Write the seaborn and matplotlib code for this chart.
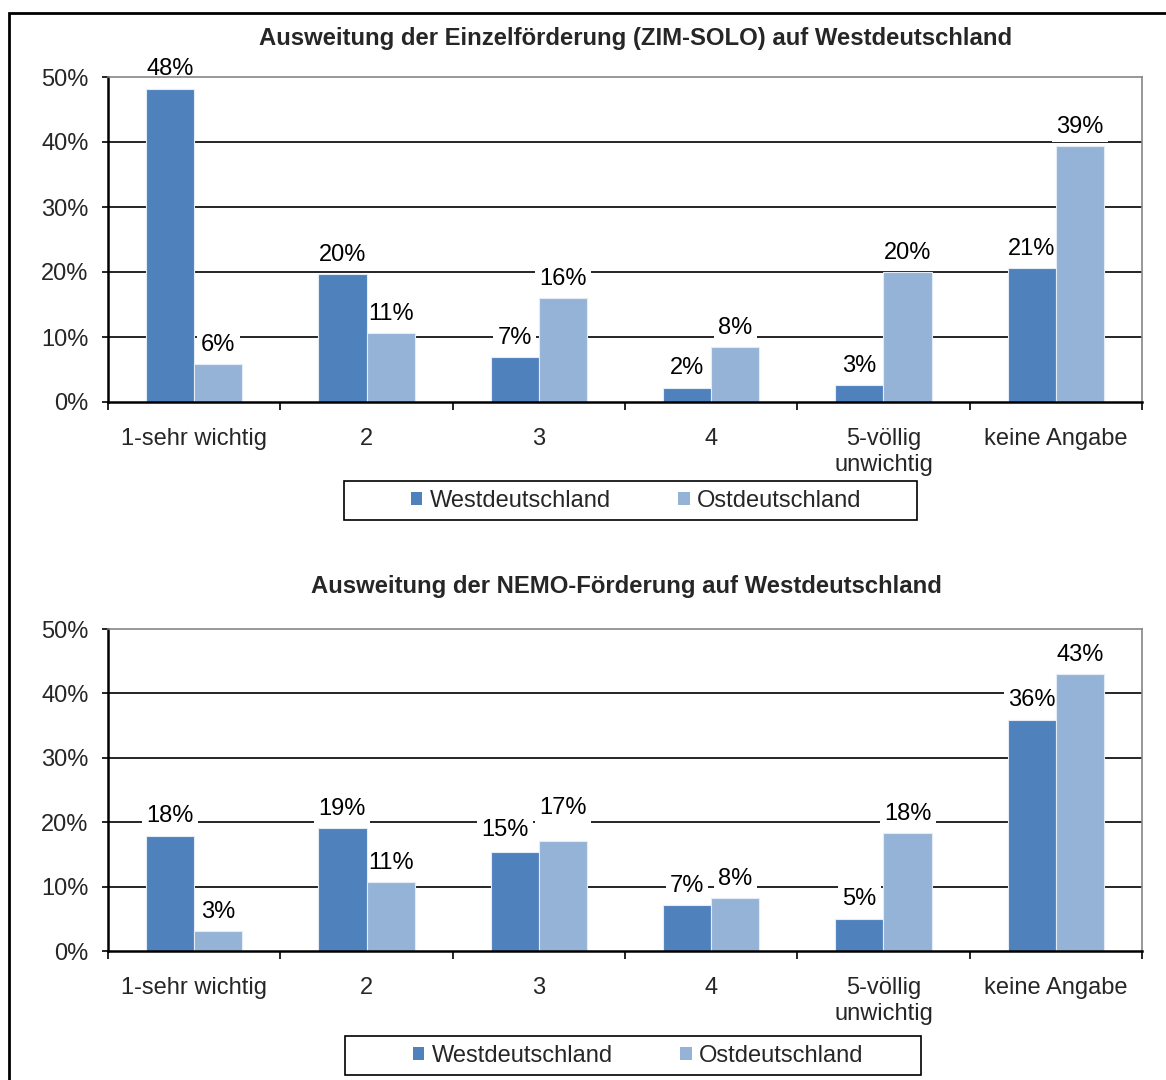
import numpy as np
import pandas as pd
import matplotlib
matplotlib.use('Agg')
import matplotlib.pyplot as plt
import seaborn as sns
from matplotlib.patches import Rectangle, Patch

# categories and series (percent)
categories = ['1-sehr wichtig', '2', '3', '4', '5-völlig\nunwichtig', 'keine Angabe']
regions = ['Westdeutschland', 'Ostdeutschland']

solo_west = [48.2, 19.7, 6.9, 2.2, 2.6, 20.6]
solo_ost = [5.8, 10.6, 16.0, 8.4, 20.0, 39.4]
nemo_west = [17.9, 19.1, 15.4, 7.1, 5.0, 35.9]
nemo_ost = [3.1, 10.7, 17.1, 8.2, 18.3, 43.0]

title_solo = 'Ausweitung der Einzelförderung (ZIM-SOLO) auf Westdeutschland'
title_nemo = 'Ausweitung der NEMO-Förderung auf Westdeutschland'
yticks = [0, 10, 20, 30, 40, 50]
colors = ['#4F81BD', '#95B3D7']

sns.set_theme(style='white')
plt.rcParams['font.family'] = ['Liberation Sans', 'DejaVu Sans']

W, H = 1166, 1080
fig = plt.figure(figsize=(W / 100, H / 100), dpi=100)
fs = 17
pad_lbl = 6


def px(x0, y0, x1, y1):
    # pixel box -> figure fraction rect
    return [x0 / W, 1 - y1 / H, (x1 - x0) / W, (y1 - y0) / H]


def draw_panel(rect, west, ost, title, title_xy, legend_xy, box, nudges=None):
    ax = fig.add_axes(rect)
    df = pd.DataFrame({
        'Kategorie': categories * 2,
        'Region': [regions[0]] * len(categories) + [regions[1]] * len(categories),
        'Anteil': west + ost,
    })
    sns.barplot(data=df, x='Kategorie', y='Anteil', hue='Region', palette=colors,
                width=0.56, saturation=1, edgecolor='#e4ecf5', linewidth=0.8,
                legend=False, ax=ax, zorder=2)

    for v in yticks[1:-1]:
        ax.axhline(v, color='black', lw=1.2, zorder=0.5)

    nudges = nudges or {}
    for k, (cont, vals) in enumerate(zip(ax.containers, [west, ost])):
        texts = ax.bar_label(cont, labels=[f'{round(v)}%' for v in vals],
                             padding=pad_lbl, fontsize=fs, color='black')
        for i, t in enumerate(texts):
            t.set_bbox(dict(facecolor='white', edgecolor='none', pad=3))
            t.set_zorder(1)
            if (k, i) in nudges:
                dx, dy = nudges[(k, i)]
                t.xyann = (dx, pad_lbl + dy)

    ax.set_ylim(0, 50)
    ax.set_xlim(-0.5, len(categories) - 0.5)
    ax.set_yticks(yticks)
    ax.set_yticklabels([f'{v}%' for v in yticks])
    ax.set_xticks(range(len(categories)))
    ax.set_xticklabels(categories)
    ax.set_xticks(np.arange(-0.5, len(categories), 1), minor=True)
    ax.tick_params(axis='x', which='major', length=0, pad=19, labelsize=fs)
    ax.tick_params(axis='x', which='minor', length=6, width=1.2, direction='out',
                   color='black', bottom=True)
    ax.tick_params(axis='y', length=4, width=1.2, direction='out', color='black',
                   pad=10, labelsize=fs, left=True)
    ax.set_xlabel('')
    ax.set_ylabel('')

    for s in ['left', 'bottom']:
        ax.spines[s].set_color('black')
        ax.spines[s].set_linewidth(1.8)
    for s in ['top', 'right']:
        ax.spines[s].set_color('#868686')
        ax.spines[s].set_linewidth(1.2)

    fig.text(title_xy[0] / W, 1 - title_xy[1] / H, title, ha='center', va='center',
             fontsize=17.2, fontweight='bold')

    handles = [Patch(facecolor=c, edgecolor='none') for c in colors]
    fig.legend(handles, regions, loc='center',
               bbox_to_anchor=(legend_xy[0] / W, 1 - legend_xy[1] / H),
               ncol=2, frameon=False, fontsize=fs, handlelength=0.5,
               handleheight=0.5, handletextpad=0.3, columnspacing=2.85)
    x0, y0, x1, y1 = box
    fig.patches.append(Rectangle((x0 / W, 1 - y1 / H), (x1 - x0) / W, (y1 - y0) / H,
                                 transform=fig.transFigure, fill=False,
                                 edgecolor='black', lw=1.2))
    return ax


draw_panel(px(108, 77, 1142, 402), solo_west, solo_ost, title_solo, (636, 39),
           (636, 501), (344, 481, 917, 520))
# label offsets (points) where Excel moved overlapping labels apart
draw_panel(px(108, 629, 1142, 951), nemo_west, nemo_ost, title_nemo, (626, 587),
           (638, 1056), (345, 1036, 921, 1075),
           nudges={(0, 2): (-7, 2), (1, 2): (0, 10)})

# outer frame
fig.patches.append(Rectangle((9 / W, -0.1), 1.2, 1 - 13 / H + 0.1,
                             transform=fig.transFigure, fill=False,
                             edgecolor='black', lw=2))

fig.savefig('out.png', dpi=100)
